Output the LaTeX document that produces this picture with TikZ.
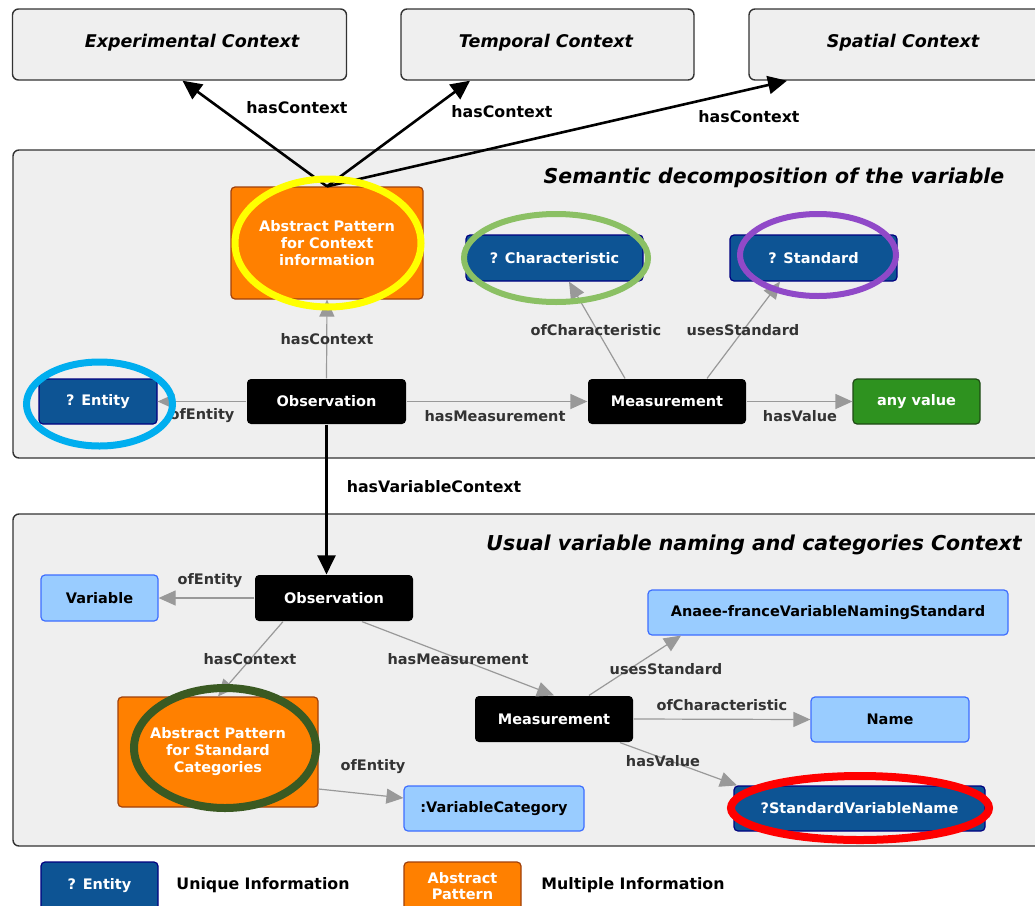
\documentclass[tikz,border=0pt]{standalone}
\usepackage{fontspec}
\setmainfont{DejaVu Sans}
\usetikzlibrary{arrows.meta,calc}

\definecolor{panelbg}{HTML}{EFEFEF}
\definecolor{panelline}{HTML}{333333}
\definecolor{deepblue}{HTML}{0D5494}
\definecolor{navyline}{HTML}{000080}
\definecolor{paleblue}{HTML}{99CCFF}
\definecolor{paleline}{HTML}{3D6DFF}
\definecolor{patorange}{HTML}{FF8000}
\definecolor{patline}{HTML}{A0400A}
\definecolor{valgreen}{HTML}{2E921F}
\definecolor{valline}{HTML}{1E4A14}
\definecolor{edgegray}{HTML}{999999}
\definecolor{labelgray}{HTML}{333333}
\definecolor{ringyellow}{HTML}{FFFF00}
\definecolor{ringlime}{HTML}{8BC064}
\definecolor{ringpurple}{HTML}{9049C8}
\definecolor{ringcyan}{HTML}{00AEEF}
\definecolor{ringolive}{HTML}{3A5A22}
\definecolor{ringred}{HTML}{FF0000}

\tikzset{
  box/.style={rectangle, rounded corners=4pt, inner sep=0pt, align=center, line width=1.2pt},
  obsbox/.style={box, fill=black, text=white},
  uniq/.style={box, fill=deepblue, draw=navyline, text=white},
  plain/.style={box, fill=paleblue, draw=paleline, text=black},
  multi/.style={box, fill=patorange, draw=patline, text=white},
  valbox/.style={box, fill=valgreen, draw=valline, text=white},
  ctxbox/.style={box, fill=panelbg, draw=panelline, rounded corners=6pt, line width=1.4pt},
  panel/.style={fill=panelbg, draw=panelline, rounded corners=6pt, line width=1.4pt},
  ctxtitle/.style={inner sep=0pt, font=\fontsize{17.5}{20}\selectfont\bfseries\itshape},
  paneltitle/.style={inner sep=0pt, font=\fontsize{20.5}{24}\selectfont\bfseries\itshape},
  rel/.style={draw=edgegray, line width=1.2pt, -{Triangle[length=17pt,width=15pt]}},
  ctxarrow/.style={draw=black, line width=2.6pt, -{Triangle[length=19pt,width=18pt]}},
  lbl/.style={text=labelgray, inner sep=0pt},
  toplbl/.style={text=black, inner sep=0pt, font=\fontsize{15.8}{18}\selectfont\bfseries},
  ring/.style={line width=#1},
  legtext/.style={inner sep=0pt, font=\fontsize{15.8}{18}\selectfont\bfseries}
}

\begin{document}
\begin{tikzpicture}[x=1pt, y=-1pt, font=\fontsize{14.5}{17}\selectfont\bfseries]
\useasboundingbox (0,0) rectangle (1035,905);
\fill[white] (0,0) rectangle (1035,905);
\clip (0,0) rectangle (1035,905);

% ---- context boxes along the top
\node[ctxbox, minimum width=334, minimum height=71] (expctx) at (179.5,44.5) {};
\node[ctxtitle] (expctxlbl) at (192,43) {Experimental Context};
\node[ctxbox, minimum width=293, minimum height=71] (tmpctx) at (547.5,44.5) {};
\node[ctxtitle] (tmpctxlbl) at (546,43) {Temporal Context};
\node[ctxbox, minimum width=310, minimum height=71] (spactx) at (904,44.5) {};
\node[ctxtitle] (spactxlbl) at (903,43) {Spatial Context};

% ---- the two panels
\path[panel] (13,150) rectangle (1050,458);
\node[paneltitle] (sem) at (774,178) {Semantic decomposition of the variable};
\path[panel] (13,514) rectangle (1050,846);
\node[paneltitle] (usual) at (754,545) {Usual variable naming and categories Context};

% ---- nodes of the semantic decomposition
\node[multi, minimum width=192, minimum height=112] (absctx) at (327,243) {Abstract Pattern\\for Context\\information};
\node[uniq, minimum width=177, minimum height=46] (charq) at (554.5,258) {? Characteristic};
\node[uniq, minimum width=167, minimum height=46] (stdq) at (813.5,258) {? Standard};
\node[uniq, minimum width=118, minimum height=45] (entq) at (98,401.5) {? Entity};
\node[obsbox, minimum width=159, minimum height=45] (obs1) at (326.5,401.5) {Observation};
\node[obsbox, minimum width=158, minimum height=45] (meas1) at (667,401.5) {Measurement};
\node[valbox, minimum width=127, minimum height=45] (anyval) at (916.5,401.5) {any value};

% ---- nodes of the naming context
\node[plain, minimum width=117, minimum height=46] (var) at (99.5,598) {Variable};
\node[obsbox, minimum width=158, minimum height=46] (obs2) at (334,598) {Observation};
\node[multi, minimum width=200, minimum height=110] (abscat) at (218,752) {Abstract Pattern\\for Standard\\Categories};
\node[obsbox, minimum width=158, minimum height=46] (meas2) at (554,719) {Measurement};
\node[plain, minimum width=180, minimum height=45] (varcat) at (494,808.5) {:VariableCategory};
\node[plain, minimum width=360, minimum height=45] (anaee) at (828,612.5) {Anaee-franceVariableNamingStandard};
\node[plain, minimum width=158, minimum height=45] (name) at (890,719.5) {Name};
\node[uniq, minimum width=251, minimum height=45] (stdvar) at (859.5,808.5) {?StandardVariableName};

% ---- context arrows
\draw[ctxarrow] (absctx.north) -- ([xshift=3pt]expctx.south);
\draw[ctxarrow] (absctx.north) -- ([xshift=-77.5pt]tmpctx.south);
\draw[ctxarrow] (absctx.north) -- ([xshift=-117pt]spactx.south);
\node[toplbl] (hc1) at (297,108) {hasContext};
\node[toplbl] (hc2) at (502,112) {hasContext};
\node[toplbl] (hc3) at (749,117) {hasContext};

% ---- relations in the semantic decomposition
\draw[rel] (obs1.north) -- (absctx.south);
\draw[rel] (obs1.west) -- (entq.east);
\draw[rel] (obs1.east) -- (meas1.west);
\draw[rel] (meas1.east) -- (anyval.west);
\draw[rel] ([xshift=-42pt]meas1.north) -- ([xshift=14.5pt]charq.south);
\draw[rel] ([xshift=40pt]meas1.north) -- ([xshift=-33.5pt]stdq.south);
\node[lbl] (l1) at (327,339) {hasContext};
\node[lbl] (l2) at (202,416) {ofEntity};
\node[lbl] (l3) at (495,416) {hasMeasurement};
\node[lbl] (l4) at (800,416) {hasValue};
\node[lbl] (l5) at (596,330) {ofCharacteristic};
\node[lbl] (l6) at (743,330) {usesStandard};

% ---- link between the panels
\draw[ctxarrow] (obs1.south) -- (obs1.south |- obs2.north);
\node[toplbl] (hvc) at (434,487) {hasVariableContext};

% ---- relations in the naming context
\draw[rel] (obs2.west) -- (var.east);
\draw[rel] ([xshift=-51pt]obs2.south) -- (abscat.north);
\draw[rel] ([xshift=28pt]obs2.south) -- (meas2.north);
\draw[rel] ([yshift=-37pt]abscat.east) -- ([yshift=10.5pt]varcat.west);
\draw[rel] ([xshift=35pt]meas2.north) -- ([xshift=-147pt]anaee.south);
\draw[rel] (meas2.east) -- (name.west);
\draw[rel] ([xshift=66pt]meas2.south) -- ([xshift=-122.5pt]stdvar.north);
\node[lbl] (m1) at (210,581) {ofEntity};
\node[lbl] (m2) at (250,659) {hasContext};
\node[lbl] (m3) at (458,659) {hasMeasurement};
\node[lbl] (m4) at (373,767) {ofEntity};
\node[lbl] (m5) at (666,669) {usesStandard};
\node[lbl] (m6) at (722,705) {ofCharacteristic};
\node[lbl] (m7) at (663,761) {hasValue};

% ---- highlight rings
\draw[ring=7pt, ringyellow] (328,243) ellipse [x radius=93, y radius=64];
\draw[ring=6pt, ringlime] (556,258) ellipse [x radius=92, y radius=44];
\draw[ring=6pt, ringpurple] (818,255) ellipse [x radius=78, y radius=41];
\draw[ring=7pt, ringcyan] (99.5,404) ellipse [x radius=73, y radius=42];
\draw[ring=8pt, ringolive] (225,748) ellipse [x radius=91, y radius=60];
\draw[ring=8pt, ringred] (860,808) ellipse [x radius=129, y radius=32];

% ---- legend
\node[uniq, minimum width=117, minimum height=48] (legent) at (99.5,886) {? Entity};
\node[legtext] (legentlbl) at (263,885) {Unique Information};
\node[multi, minimum width=117, minimum height=48] (legabs) at (462.5,886) {Abstract\\[-1pt]Pattern};
\node[legtext] (legabslbl) at (633,885) {Multiple Information};
\end{tikzpicture}
\end{document}
